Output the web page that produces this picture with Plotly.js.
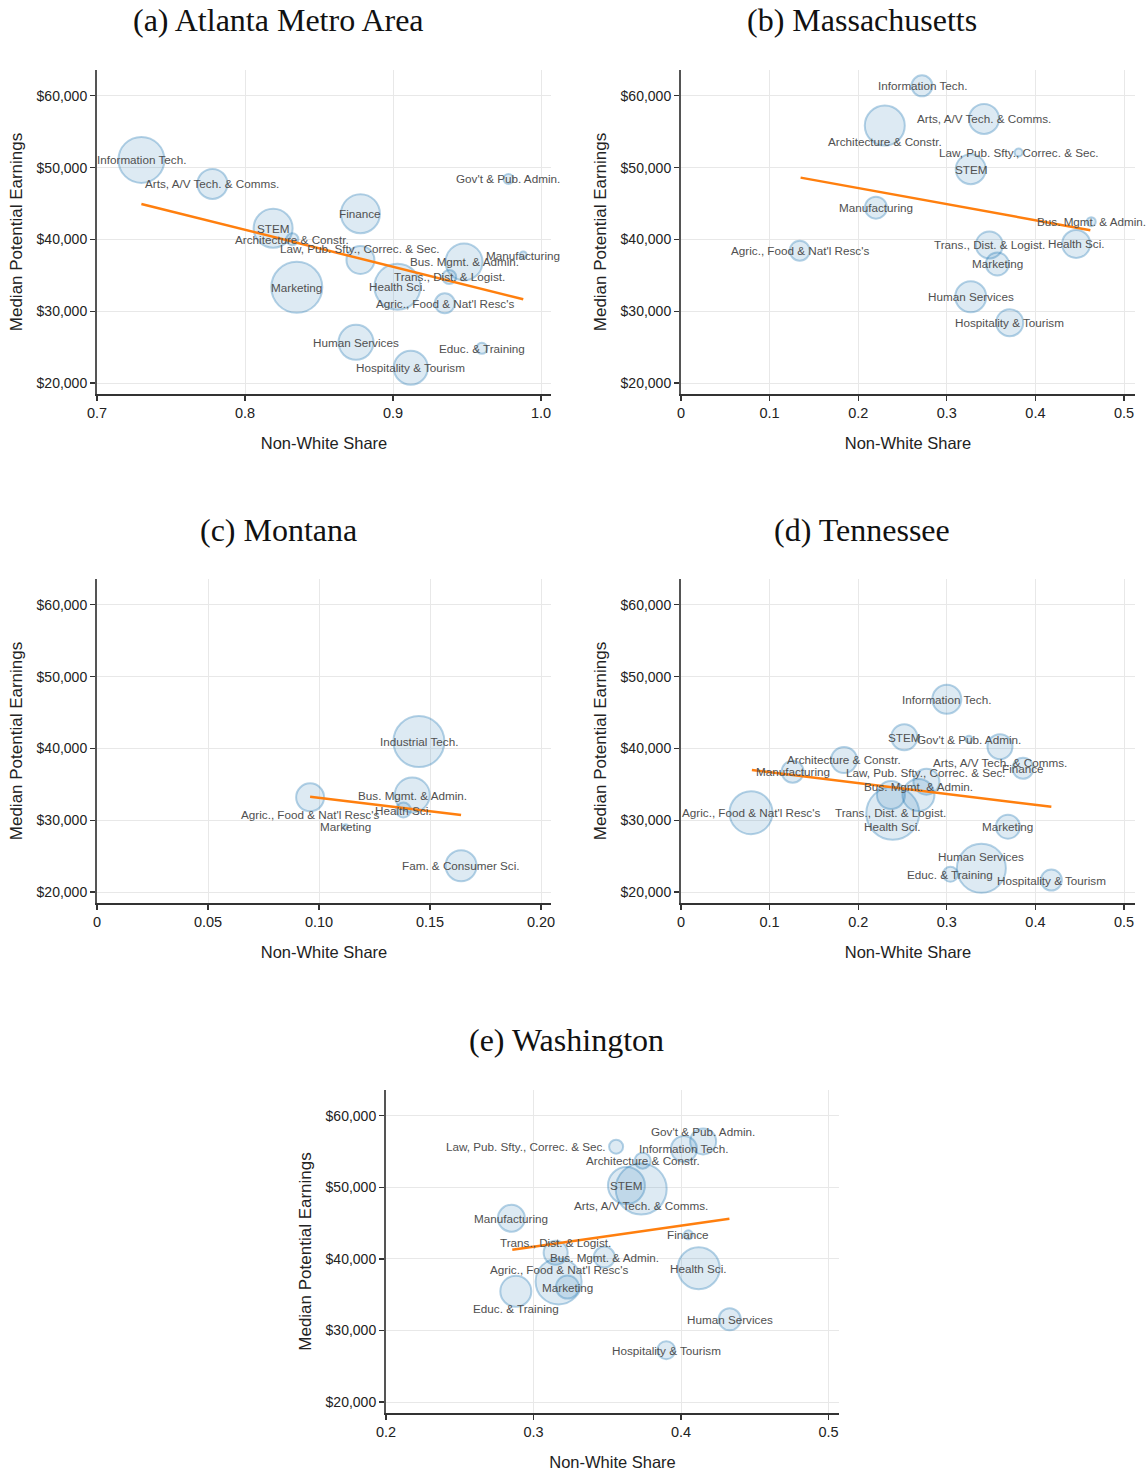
<!DOCTYPE html>
<html><head><meta charset="utf-8">
<script src="https://cdn.plot.ly/plotly-3.0.1.min.js"></script>
<style>html,body{margin:0;padding:0;background:#fff}</style>
</head><body><div id="chart" style="width:1147px;height:1472px"></div>
<script>
// ---------- DATA ----------
// (a) Atlanta Metro Area
const atlLabels = ["Information Tech.","Arts, A/V Tech. & Comms.","STEM","Architecture & Constr.","Law, Pub. Sfty., Correc. & Sec.","Finance","Marketing","Bus. Mgmt. & Admin.","Manufacturing","Trans., Dist. & Logist.","Health Sci.","Agric., Food & Nat'l Resc's","Human Services","Educ. & Training","Hospitality & Tourism","Gov't & Pub. Admin."];
const atlShare = [0.730,0.778,0.819,0.832,0.878,0.878,0.835,0.948,0.988,0.938,0.903,0.935,0.875,0.960,0.912,0.978];
const atlEarn  = [51080,47730,41560,40020,37140,43590,33330,36860,37830,34770,33420,31100,25670,24830,22130,48430];
const atlSize  = [46,30,39,12,28,39,51,37,7,14,46,20,35,11,34,10];
const atlTrendX = [0.730,0.988];
const atlTrendY = [44945,31660];

// (b) Massachusetts
const maLabels = ["Information Tech.","Arts, A/V Tech. & Comms.","Architecture & Constr.","Law, Pub. Sfty., Correc. & Sec.","STEM","Manufacturing","Agric., Food & Nat'l Resc's","Trans., Dist. & Logist.","Marketing","Health Sci.","Bus. Mgmt. & Admin.","Human Services","Hospitality & Tourism"];
const maShare = [0.272,0.342,0.230,0.381,0.327,0.220,0.134,0.348,0.357,0.446,0.463,0.327,0.371];
const maEarn  = [61390,56790,55860,52100,49780,44430,38430,39230,36580,39370,42480,32020,28400];
const maSize  = [21,30,40,8,30,22,20,27,23,28,9,31,27];
const maTrendX = [0.135,0.462];
const maTrendY = [48610,41280];

// (c) Montana
const mtLabels = ["Industrial Tech.","Agric., Food & Nat'l Resc's","Bus. Mgmt. & Admin.","Health Sci.","Marketing","Fam. & Consumer Sci."];
const mtShare = [0.145,0.096,0.142,0.138,0.112,0.164];
const mtEarn  = [40950,33190,33510,31420,29100,23660];
const mtSize  = [51,28,35,15,5,31];
const mtTrendX = [0.096,0.164];
const mtTrendY = [33280,30730];

// (d) Tennessee
const tnLabels = ["Information Tech.","STEM","Gov't & Pub. Admin.","Arts, A/V Tech. & Comms.","Finance","Architecture & Constr.","Manufacturing","Law, Pub. Sfty., Correc. & Sec.","Bus. Mgmt. & Admin.","Trans., Dist. & Logist.","Health Sci.","Agric., Food & Nat'l Resc's","Marketing","Human Services","Educ. & Training","Hospitality & Tourism"];
const tnShare = [0.300,0.252,0.325,0.360,0.386,0.184,0.126,0.277,0.268,0.237,0.239,0.079,0.369,0.339,0.304,0.418];
const tnEarn  = [46850,41560,41280,40250,37240,38390,36760,35370,33510,33510,30960,31050,29100,23300,22460,21670];
const tnSize  = [29,26,7,25,21,26,22,26,32,28,53,43,24,49,15,21];
const tnTrendX = [0.080,0.418];
const tnTrendY = [37000,31880];

// (e) Washington
const waLabels = ["Gov't & Pub. Admin.","Information Tech.","Law, Pub. Sfty., Correc. & Sec.","Architecture & Constr.","STEM","Arts, A/V Tech. & Comms.","Manufacturing","Finance","Trans., Dist. & Logist.","Bus. Mgmt. & Admin.","Agric., Food & Nat'l Resc's","Marketing","Educ. & Training","Health Sci.","Human Services","Hospitality & Tourism"];
const waShare = [0.415,0.402,0.356,0.374,0.363,0.373,0.285,0.405,0.315,0.348,0.317,0.323,0.288,0.412,0.433,0.390];
const waEarn  = [56420,55360,55680,53730,50240,49780,45680,43370,40860,40250,36860,36070,35470,38710,31560,27240];
const waSize  = [26,26,14,16,37,51,27,9,24,21,46,23,31,42,22,18];
const waTrendX = [0.2856,0.4328];
const waTrendY = [41280,45600];

const panelTitles = ["(a) Atlanta Metro Area","(b) Massachusetts","(c) Montana","(d) Tennessee","(e) Washington"];

// ---------- STYLE ----------
const SANS = "'Liberation Sans Narrow', 'Arial Narrow', 'Liberation Sans', Arial, sans-serif";
const SERIF = "'Liberation Serif', 'DejaVu Serif', serif";
const W = 1147, H = 1472;
const px = v => v / W;
const py = v => (H - v) / H;

// label pixel offsets (style only): yshift (+ up), or anchor side
const labelStyle = {
  a: {"Law, Pub. Sfty., Correc. & Sec.": {dy: 11}},
  b: {"Architecture & Constr.": {dy: -16}},
  c: {"Agric., Food & Nat'l Resc's": {dy: -17}},
  d: {"Arts, A/V Tech. & Comms.": {dy: -16}, "Human Services": {dy: 12}, "Health Sci.": {dy: -13},
      "Trans., Dist. & Logist.": {dy: -17}, "Law, Pub. Sfty., Correc. & Sec.": {dy: 9}, "Bus. Mgmt. & Admin.": {dy: 9}},
  e: {"Gov't & Pub. Admin.": {dy: 10}, "Arts, A/V Tech. & Comms.": {dy: -17}, "Trans., Dist. & Logist.": {dy: 10},
      "Agric., Food & Nat'l Resc's": {dy: 12}, "Educ. & Training": {dy: -17},
      "Law, Pub. Sfty., Correc. & Sec.": {side: 'left'}}
};

const panels = [
  {k:'a', xa:'x',  ya:'y',  L:atlLabels, X:atlShare, Y:atlEarn, S:atlSize, TX:atlTrendX, TY:atlTrendY,
   xd:[px(97),px(551)], yd:[py(394),py(70)], xr:[0.7,1.00676], title:panelTitles[0], tx:278, ty:20,
   xextra:{dtick:0.1, tick0:0, tickformat:'.1f'}},
  {k:'b', xa:'x2', ya:'y2', L:maLabels, X:maShare, Y:maEarn, S:maSize, TX:maTrendX, TY:maTrendY,
   xd:[px(681),px(1135)], yd:[py(394),py(70)], xr:[0,0.5124], title:panelTitles[1], tx:862, ty:20,
   xextra:{dtick:0.1, tick0:0}},
  {k:'c', xa:'x3', ya:'y3', L:mtLabels, X:mtShare, Y:mtEarn, S:mtSize, TX:mtTrendX, TY:mtTrendY,
   xd:[px(97),px(551)], yd:[py(903),py(579)], xr:[0,0.2045], title:panelTitles[2], tx:278, ty:530,
   xextra:{tickmode:'array', tickvals:[0,0.05,0.1,0.15,0.2], ticktext:['0','0.05','0.10','0.15','0.20']}},
  {k:'d', xa:'x4', ya:'y4', L:tnLabels, X:tnShare, Y:tnEarn, S:tnSize, TX:tnTrendX, TY:tnTrendY,
   xd:[px(681),px(1135)], yd:[py(903),py(579)], xr:[0,0.5124], title:panelTitles[3], tx:862, ty:530,
   xextra:{dtick:0.1, tick0:0}},
  {k:'e', xa:'x5', ya:'y5', L:waLabels, X:waShare, Y:waEarn, S:waSize, TX:waTrendX, TY:waTrendY,
   xd:[px(386),px(839)], yd:[py(1413),py(1090)], xr:[0.2,0.5071], title:panelTitles[4], tx:566, ty:1040,
   xextra:{dtick:0.1, tick0:0}}
];

const traces = [];
const annotations = [];
const layout = {
  width: W, height: H, margin:{l:0,r:0,t:0,b:0},
  paper_bgcolor:'#fff', plot_bgcolor:'#fff', showlegend:false, hovermode:false
};

panels.forEach((p, i) => {
  const n = i === 0 ? '' : String(i + 1);
  traces.push({
    type:'scatter', mode:'markers', x:p.X, y:p.Y, xaxis:p.xa, yaxis:p.ya, cliponaxis:false,
    marker:{size:p.S, sizemode:'diameter', color:'rgba(31,119,180,0.21)',
            line:{color:'rgba(31,119,180,0.48)', width:2}}
  });
  traces.push({
    type:'scatter', mode:'lines', x:p.TX, y:p.TY, xaxis:p.xa, yaxis:p.ya,
    line:{color:'#ff7f0e', width:2.5}
  });
  p.L.forEach((lab, j) => {
    const st = (labelStyle[p.k] || {})[lab] || {};
    const a = {
      text: lab, x: p.X[j], y: p.Y[j], xref: p.xa, yref: p.ya, showarrow:false,
      font:{family:SANS, size:11.7, color:'#505050'}, yanchor:'middle', xanchor:'center',
      yshift: st.dy || 0
    };
    if (st.side === 'left') { a.xanchor = 'right'; a.xshift = -8; }
    annotations.push(a);
  });
  annotations.push({
    text: p.title, xref:'paper', yref:'paper', x: px(p.tx), y: py(p.ty),
    xanchor:'center', yanchor:'middle', showarrow:false,
    font:{family:SERIF, size:32, color:'#111'}
  });
  layout['xaxis' + n] = Object.assign({
    domain:p.xd, range:p.xr, anchor:p.ya, showgrid:true, gridcolor:'#e8e8e8', gridwidth:1,
    zeroline:false, showline:true, linecolor:'#333', linewidth:1.5, ticks:'outside', ticklen:5,
    tickcolor:'#333', tickwidth:1.2, automargin:false,
    tickfont:{family:SANS, size:14.5, color:'#222'},
    title:{text:'Non-White Share', font:{family:SANS, size:16.5, color:'#222'}, standoff:17}
  }, p.xextra);
  layout['yaxis' + n] = {
    domain:p.yd, range:[18470,63600], anchor:p.xa, showgrid:true, gridcolor:'#e8e8e8', gridwidth:1,
    zeroline:false, showline:true, linecolor:'#555', linewidth:2, ticks:'outside', ticklen:5,
    tickcolor:'#333', tickwidth:1.2, dtick:10000, tick0:0, tickprefix:'$', tickformat:',d',
    automargin:false, tickfont:{family:SANS, size:14, color:'#222'},
    title:{text:'Median Potential Earnings', font:{family:SANS, size:17, color:'#222'}, standoff:10}
  };
});
layout.annotations = annotations;

Plotly.newPlot('chart', traces, layout, {staticPlot:true, displayModeBar:false});
</script></body></html>
